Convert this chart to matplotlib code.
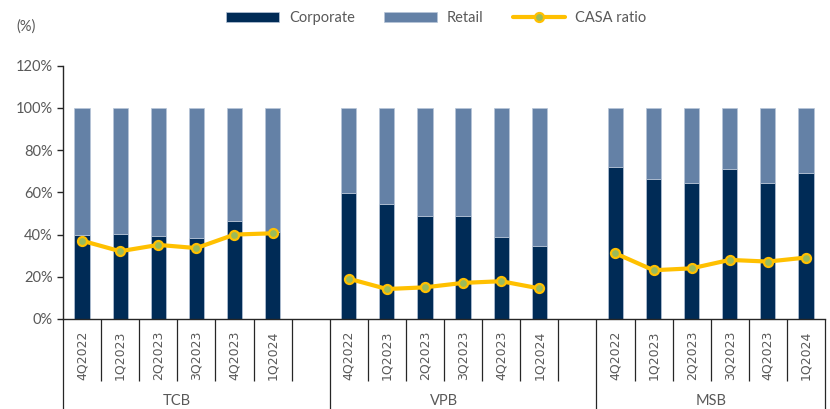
import numpy as np
import matplotlib.pyplot as plt
from matplotlib.transforms import blended_transform_factory

plt.rcParams['font.family'] = ['Lato', 'DejaVu Sans']

banks = ['TCB', 'VPB', 'MSB']
quarters = ['4Q2022', '1Q2023', '2Q2023', '3Q2023', '4Q2023', '1Q2024']

corporate_tcb = [40.0, 40.3, 39.5, 38.5, 46.6, 41.4]
corporate_vpb = [59.9, 54.7, 49.0, 49.0, 38.9, 34.8]
corporate_msb = [72.2, 66.5, 64.3, 71.1, 64.6, 69.4]

casa_tcb = [37.1, 32.1, 35.1, 33.6, 40.0, 40.6]
casa_vpb = [19.1, 14.2, 15.0, 17.1, 17.9, 14.5]
casa_msb = [31.1, 23.1, 24.0, 28.0, 27.2, 29.1]

# build one slot per quarter with a blank slot after TCB and VPB groups
corp = corporate_tcb + [np.nan] + corporate_vpb + [np.nan] + corporate_msb
casa = casa_tcb + [np.nan] + casa_vpb + [np.nan] + casa_msb
corp = np.array(corp)
casa = np.array(casa)
retail = 100 - corp
x = np.arange(len(corp))

dark = '#002B56'
light = '#6481A6'
gold = '#FFC000'
grey = '#595959'

fig = plt.figure(figsize=(8.3, 4.09), dpi=100)
ax = fig.add_axes([63/830, 1-319/409, 762/830, (319-65.7)/409])

b1 = ax.bar(x, corp, width=0.4, color=dark, edgecolor='#B8C6D8', linewidth=0.5, label='Corporate', zorder=2)
b2 = ax.bar(x, retail, width=0.4, bottom=corp, color=light, edgecolor='#B8C6D8', linewidth=0.5, label='Retail', zorder=2)
l1, = ax.plot(x, casa, color=gold, lw=3, marker='o', ms=6.5, mfc='#9BBB59', mec=gold, mew=1.6,
              label='CASA ratio', zorder=3, solid_capstyle='round')

ax.set_xlim(-0.5, len(corp) - 0.5)
ax.set_ylim(0, 120)
ax.set_yticks(np.arange(0, 121, 20))
ax.set_yticklabels([f'{v}%' for v in range(0, 121, 20)])
ax.tick_params(axis='y', direction='out', length=4.5, width=1, color='#262626',
               labelsize=10.5, labelcolor=grey, pad=3)

for s in ['top', 'right']:
    ax.spines[s].set_visible(False)
for s in ['left', 'bottom']:
    ax.spines[s].set_color('#262626')
    ax.spines[s].set_linewidth(1)

# group boundaries as major ticks, category boundaries as minor ticks
group_edges = [-0.5, 6.5, 13.5, 19.5]
cat_edges = [e + 0.5 for e in range(19) if e + 0.5 not in group_edges]
ax.set_xticks(group_edges)
ax.set_xticklabels([])
ax.set_xticks(cat_edges, minor=True)
ax.tick_params(axis='x', which='major', direction='out', length=66, width=0.9, color='#262626')
ax.tick_params(axis='x', which='minor', direction='out', length=44.5, width=0.9, color='#262626')

tr = blended_transform_factory(ax.transData, ax.transAxes)
pos = 0
for b in banks:
    for q in quarters:
        ax.text(pos, -0.145, q, transform=tr, rotation=90, ha='center', va='center',
                fontsize=9, color=grey, family=['DejaVu Sans'])
        pos += 1
    ax.text(pos - 3.5, -0.325, b, transform=tr, ha='center', va='center',
            fontsize=10.5, color=grey)
    pos += 1

fig.text(16/830, 1-27/409, '(%)', ha='left', va='center', fontsize=10.5, color=grey)

fig.legend([b1, b2, l1], ['Corporate', 'Retail', 'CASA ratio'],
           loc='center', bbox_to_anchor=(0.526, 1-18/409), ncol=3, frameon=False,
           handlelength=3.6, handleheight=0.75, columnspacing=2.0, handletextpad=0.7,
           fontsize=10.5, labelcolor=grey)

fig.savefig('out.png', dpi=100)
